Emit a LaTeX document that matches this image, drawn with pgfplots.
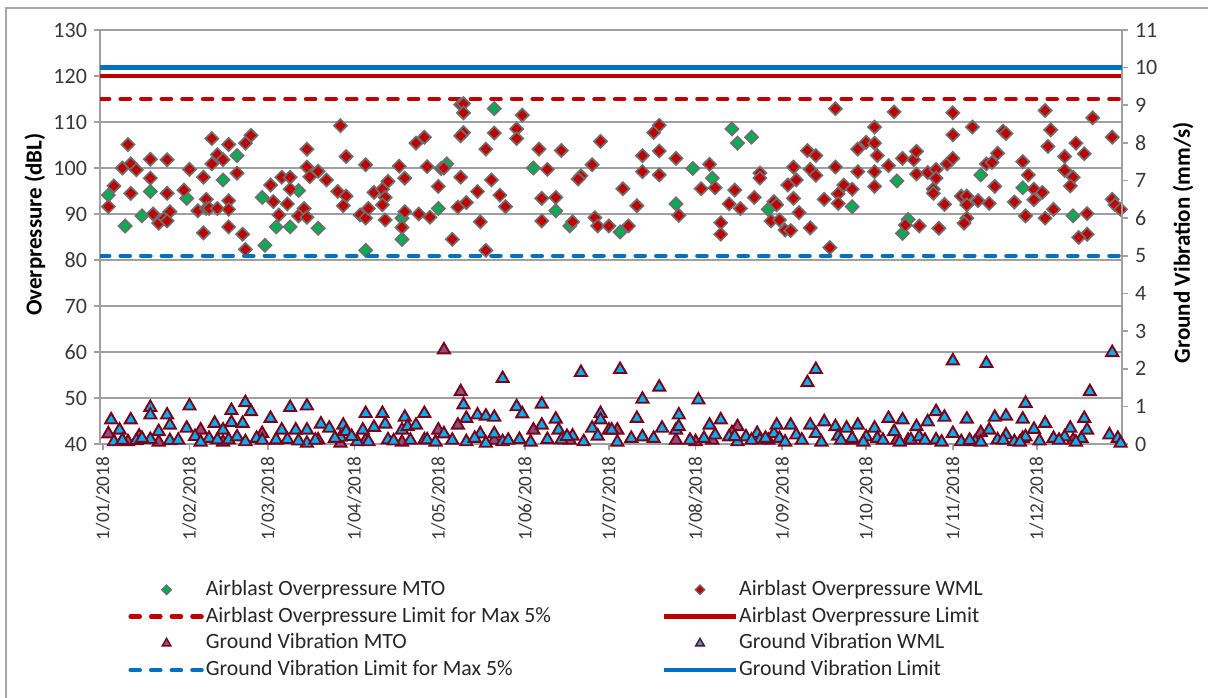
\documentclass[border=0pt]{standalone}
\usepackage{fontspec}
\setmainfont{Carlito}
\usepackage{pgfplots}
\pgfplotsset{compat=1.18}
\definecolor{wmlred}{HTML}{C00000}
\definecolor{mtogreen}{HTML}{00B050}
\definecolor{dmdborder}{HTML}{6E6E6E}
\definecolor{gvblue}{HTML}{00B0F0}
\definecolor{gvpurple}{HTML}{8E4E80}
\definecolor{triborder}{HTML}{7A0019}
\definecolor{limblue}{HTML}{0070C0}
\definecolor{gridgray}{HTML}{A0A0A0}
\definecolor{framegray}{HTML}{A6A6A6}
\pgfplotsset{
  abMTO/.style={only marks, mark=square*, mark size=2.3pt, mark options={rotate=45, fill=mtogreen, draw=dmdborder, line width=0.85pt}},
  abWML/.style={only marks, mark=square*, mark size=2.3pt, mark options={rotate=45, fill=wmlred, draw=dmdborder, line width=0.85pt}},
  gvMTO/.style={only marks, mark=triangle*, mark size=3.5pt, mark options={fill=gvpurple, draw=triborder, line width=0.95pt}},
  gvWML/.style={only marks, mark=triangle*, mark size=3.5pt, mark options={fill=gvblue, draw=triborder, line width=0.95pt}},
  abMTOleg/.style={only marks, mark=square*, mark size=1.7pt, mark options={rotate=45, fill=mtogreen, draw=dmdborder, line width=0.6pt}},
  abWMLleg/.style={only marks, mark=square*, mark size=1.7pt, mark options={rotate=45, fill=wmlred, draw=dmdborder, line width=0.6pt}},
  gvMTOleg/.style={only marks, mark=triangle*, mark size=2.5pt, mark options={fill=gvpurple, draw=triborder, line width=0.7pt}},
  gvWMLleg/.style={only marks, mark=triangle*, mark size=2.5pt, mark options={fill=gvblue, draw=triborder, line width=0.7pt}},
  redlim/.style={wmlred, line width=2.2pt, mark=none},
  redlim5/.style={wmlred, line width=2.2pt, mark=none, line cap=round, dash pattern=on 4.6pt off 5.7pt},
  bluelim/.style={limblue, line width=2.2pt, mark=none},
  bluelim5/.style={limblue, line width=2.2pt, mark=none, line cap=round, dash pattern=on 4.6pt off 5.7pt},
  common/.style={
    scale only axis, width=511pt, height=207pt,
    xmin=-1, xmax=364.5,
    tick align=outside, major tick length=3pt,
    /pgf/number format/assume math mode=true,
    tick label style={font=\fontsize{11}{13}\selectfont, color=black!78},
    axis line style={gridgray, line width=0.8pt},
    tick style={gridgray, line width=0.8pt},
  },
}
\begin{document}
\begin{tikzpicture}
\begin{axis}[common,
  ymin=40, ymax=130, ytick={40,50,...,130},
  axis x line*=bottom, axis y line*=left,
  ymajorgrids, grid style={gridgray, line width=0.7pt},
  xtick={0,31,59,90,120,151,181,212,243,273,304,334},
  xticklabels={1/01/2018,1/02/2018,1/03/2018,1/04/2018,1/05/2018,1/06/2018,1/07/2018,1/08/2018,1/09/2018,1/10/2018,1/11/2018,1/12/2018},
  xticklabel style={rotate=90, anchor=east, font=\fontsize{9.6}{11}\selectfont},
  ylabel={Overpressure (dBL)},
  every axis y label/.style={at={(axis description cs:-0.0636,0.53)}, rotate=90, anchor=center, font=\bfseries\fontsize{11.5}{13}\selectfont},
]
\addplot[redlim5] coordinates {(-1,115) (364.5,115)};
\addplot[redlim] coordinates {(-1,120) (364.5,120)};
\addplot[abMTO] coordinates {
(2,94.1)(8,87.4)(14,89.6)(17,94.9)(30,93.4)(43,97.4)(48,102.7)(57,93.6)(58,83.2)(62,87.2)(67,87.2)(70,95.1)(77,86.9)(94,82.1)(107,89.1)(107,84.5)(120,91.2)(123,100.9)(140,112.9)(154,100.0)(162,90.7)(167,87.4)(185,86.1)(205,92.2)(211,99.9)(218,97.8)(225,108.5)(227,105.4)(232,106.7)(238,91.0)(268,91.6)(284,97.2)(286,85.8)(288,88.8)(314,98.5)(329,95.7)(347,89.6)
};
\addplot[abWML] coordinates {
(2,91.6)(4,96.1)(7,100.0)(9,105.1)(10,100.9)(12,99.6)(10,94.5)(17,101.9)(17,97.8)(18,90.0)(20,88.0)(22,89.1)(23,101.8)(23,94.5)(24,90.5)(23,88.5)(29,95.2)(31,99.7)(34,90.7)(36,98.0)(36,85.9)(37,93.2)(37,91.2)(38,91.2)(39,106.4)(39,100.9)(41,102.9)(41,91.2)(43,101.8)(45,105.1)(48,98.9)(45,92.9)(45,91.0)(45,87.2)(50,85.6)(51,82.3)(51,105.4)(53,107.1)(60,96.3)(61,92.7)(63,89.8)(64,98.0)(67,98.0)(67,95.4)(66,92.2)(72,91.2)(70,89.6)(73,89.3)(73,104.1)(73,100.2)(74,98.1)(77,99.3)(80,97.4)(85,109.2)(87,102.5)(84,94.9)(87,93.9)(86,91.8)(92,89.8)(94,89.1)(95,91.2)(94,100.7)(97,94.7)(100,95.4)(102,97.1)(101,93.6)(100,92.0)(101,88.7)(106,100.4)(108,97.8)(108,90.5)(107,87.1)(112,105.4)(115,106.7)(116,100.3)(113,90.0)(117,89.3)(121,99.9)(120,96.0)
(128,113.8)(129,114.0)(129,112.0)(129,107.7)(128,107.0)(122,100.0)(128,98.0)(127,91.5)(130,92.5)(134,94.9)(135,88.3)(125,84.5)(137,82.1)(137,104.1)(140,107.6)(139,97.4)(142,94.1)(144,91.6)(150,111.5)(148,108.5)(148,106.4)(156,104.1)(159,99.7)(157,93.4)(162,93.6)(157,88.5)(164,103.8)(168,88.3)(171,98.3)(170,97.6)(175,100.7)(178,105.8)(176,89.2)(177,87.4)(181,87.4)(188,87.4)(186,95.5)(191,91.8)(193,102.7)(193,99.2)(197,107.7)(199,109.3)(199,103.7)(199,98.5)(206,89.7)(205,102.1)(217,100.8)(214,95.5)(219,95.7)(221,88.1)(221,85.6)(226,95.2)(224,92.2)(228,91.2)(233,93.6)(235,98.9)(235,97.8)(240,92.7)(241,92.0)(239,88.5)(244,86.5)
(242,88.7)(247,100.2)(248,97.4)(245,96.3)(247,93.4)(249,90.3)(246,86.4)(252,103.8)(255,102.7)(253,99.7)(255,98.4)(253,87.0)(258,93.2)(260,82.7)(262,112.9)(262,100.2)(263,94.4)(263,92.3)(265,96.3)(268,95.4)(270,104.1)(270,99.2)(273,105.6)(276,108.9)(276,105.4)(277,102.7)(276,99.2)(276,96.0)(283,112.2)(281,100.5)(286,102.1)(290,101.8)(291,103.6)(291,98.7)(287,87.6)(292,87.4)(295,99.0)(298,99.7)(298,97.8)(297,95.4)(297,94.5)(299,86.9)(301,92.1)(302,100.9)(304,102.1)(304,112.0)(304,107.2)(307,93.9)(309,93.9)(309,92.0)(309,89.1)(308,88.0)(311,108.9)(313,92.9)(316,100.9)(318,101.2)(320,103.2)(319,96.0)(317,92.3)(322,108.0)(323,107.5)(326,92.6)(329,101.4)(331,98.5)(333,95.4)(333,93.1)(336,94.7)(330,89.6)(337,89.1)(340,91.0)(337,112.5)(339,108.3)(338,104.7)(344,102.5)(344,99.5)(347,98.0)(346,96.1)(348,105.4)(351,103.1)(352,90.1)(352,85.6)(349,84.9)(354,110.9)(361,106.7)(361,93.2)(362,92.0)(364,91.0)
};
\end{axis}
\begin{axis}[common,
  ymin=0, ymax=11, ytick={0,1,...,11},
  axis x line=none, axis y line*=right,
  ylabel={Ground Vibration (mm/s)},
  every axis y label/.style={at={(axis description cs:1.0597,0.486)}, rotate=90, anchor=center, font=\bfseries\fontsize{11.5}{13}\selectfont},
  legend image code/.code={\draw[mark repeat=2,mark phase=2,#1] plot coordinates {(0pt,0pt) (18pt,0pt) (36pt,0pt)};},
  legend columns=2,
  legend style={at={(axis description cs:0.0274,-0.326)}, anchor=north west, draw=none, fill=none, inner sep=0pt,
    font=\fontsize{10.9}{13}\selectfont, text=black!85, row sep=3.0pt,
    nodes={inner sep=0pt, text height=8pt, text depth=2.4pt},
    /tikz/every odd column/.append style={column sep=0.5pt},
    /tikz/every even column/.append style={column sep=0pt}},
  legend cell align=left,
]
\addlegendimage{abMTOleg}\addlegendentry{\makebox[228pt][l]{Airblast Overpressure MTO}}
\addlegendimage{abWMLleg}\addlegendentry{Airblast Overpressure WML}
\addlegendimage{redlim5}\addlegendentry{\makebox[228pt][l]{Airblast Overpressure Limit for Max 5\%}}
\addlegendimage{redlim}\addlegendentry{Airblast Overpressure Limit}
\addlegendimage{gvMTOleg}\addlegendentry{\makebox[228pt][l]{Ground Vibration MTO}}
\addlegendimage{gvWMLleg}\addlegendentry{Ground Vibration WML}
\addlegendimage{bluelim5}\addlegendentry{\makebox[228pt][l]{Ground Vibration Limit for Max 5\%}}
\addlegendimage{bluelim}\addlegendentry{Ground Vibration Limit}
\addplot[bluelim5, forget plot] coordinates {(-1,5) (364.5,5)};
\addplot[bluelim, forget plot] coordinates {(-1,10) (364.5,10)};
\addplot[gvMTO, forget plot] coordinates {
(2,0.27)(9,0.06)(13,0.21)(35,0.37)(57,0.28)(77,0.11)(85,0.02)(120,0.37)(122,2.50)(128,1.39)(127,0.50)(154,0.37)(184,0.37)(212,0.06)(227,0.46)
(20,0.05)(43,0.05)(62,0.1)(94,0.1)(107,0.05)(140,0.1)(167,0.1)(205,0.1)(218,0.1)(225,0.3)(238,0.1)(268,0.1)(284,0.1)(288,0.1)(314,0.3)(329,0.15)(347,0.1)
};
\addplot[gvWML, forget plot] coordinates {
(3,0.64)(4,0.06)(6,0.37)(10,0.64)(12,0.09)(17,0.97)(17,0.77)(17,0.12)(20,0.33)(23,0.77)(24,0.50)(24,0.09)(30,0.42)(31,1.01)(38,0.15)(40,0.55)(41,0.11)(43,0.37)(45,0.11)(46,0.89)(46,0.57)(48,0.19)(50,0.55)(51,1.10)(53,0.86)(51,0.06)(60,0.68)(62,0.11)(64,0.37)(66,0.12)(67,0.97)(69,0.37)(73,0.37)(73,1.01)(73,0.02)(78,0.53)(81,0.42)(85,0.18)(86,0.50)(87,0.33)(91,0.06)(94,0.81)(93,0.37)(95,0.06)(97,0.44)(100,0.81)(101,0.53)(102,0.11)(107,0.37)(108,0.71)(109,0.46)(112,0.50)(115,0.81)(115,0.11)(116,0.11)(122,0.27)(129,1.04)(130,0.68)(130,0.06)(134,0.77)(135,0.27)(137,0.74)(137,0.02)(140,0.71)(140,0.27)(143,0.06)(143,1.74)(148,0.99)(149,0.12)(150,0.80)(157,1.06)(157,0.50)(159,0.12)(162,0.66)(163,0.37)(164,0.11)(168,0.21)(171,1.90)(172,0.06)(175,0.42)(177,0.21)(178,0.81)(178,0.64)(181,0.37)
(182,0.37)(185,1.98)(189,0.15)(191,0.68)(193,0.19)(193,1.19)(197,0.15)(199,1.51)(200,0.42)(205,0.37)(206,0.77)(206,0.46)(213,1.17)(217,0.50)(219,0.24)(221,0.64)(224,0.19)(227,0.06)(230,0.19)(234,0.28)(235,0.11)(240,0.28)(241,0.50)(242,0.15)(246,0.50)(248,0.24)(252,1.63)(255,1.98)(253,0.50)(255,0.28)(258,0.59)(262,0.46)(263,0.21)(266,0.42)(268,0.15)(270,0.50)(273,0.19)(276,0.42)(277,0.15)(281,0.68)(283,0.33)(286,0.64)(289,0.11)(291,0.46)(292,0.19)(295,0.59)(298,0.86)(298,0.11)(301,0.71)(304,0.28)(304,2.21)(307,0.06)(309,0.66)(312,0.06)(316,2.14)(317,0.37)(319,0.71)(320,0.11)(323,0.74)(323,0.24)(326,0.06)(329,0.66)(330,1.08)(330,0.19)(333,0.39)(337,0.55)(340,0.15)(344,0.19)(346,0.42)(350,0.15)(351,0.68)(352,0.37)(353,1.39)(360,0.24)(361,2.43)(363,0.15)(364,0.02)
(7,0.1)(14,0.15)(27,0.1)(33,0.2)(35,0.05)(55,0.15)(57,0.1)(70,0.08)(76,0.1)(83,0.15)(89,0.2)(104,0.08)(110,0.1)(119,0.05)(125,0.1)(133,0.15)(145,0.1)(153,0.05)(166,0.2)(184,0.05)(210,0.1)(215,0.15)(226,0.2)(232,0.1)(237,0.15)(244,0.05)(250,0.1)(257,0.05)(264,0.1)(272,0.05)(279,0.1)(285,0.05)(294,0.1)(300,0.05)(310,0.1)(314,0.05)(322,0.1)(328,0.05)(335,0.08)(342,0.1)(348,0.05)
};
\end{axis}
\draw[framegray, line width=1pt] (-47pt,-140pt) -- (-47pt,218pt) -- (570pt,218pt);
\pgfresetboundingbox
\useasboundingbox (-50pt,-126.5pt) rectangle (554pt,222pt);
\end{tikzpicture}
\end{document}
